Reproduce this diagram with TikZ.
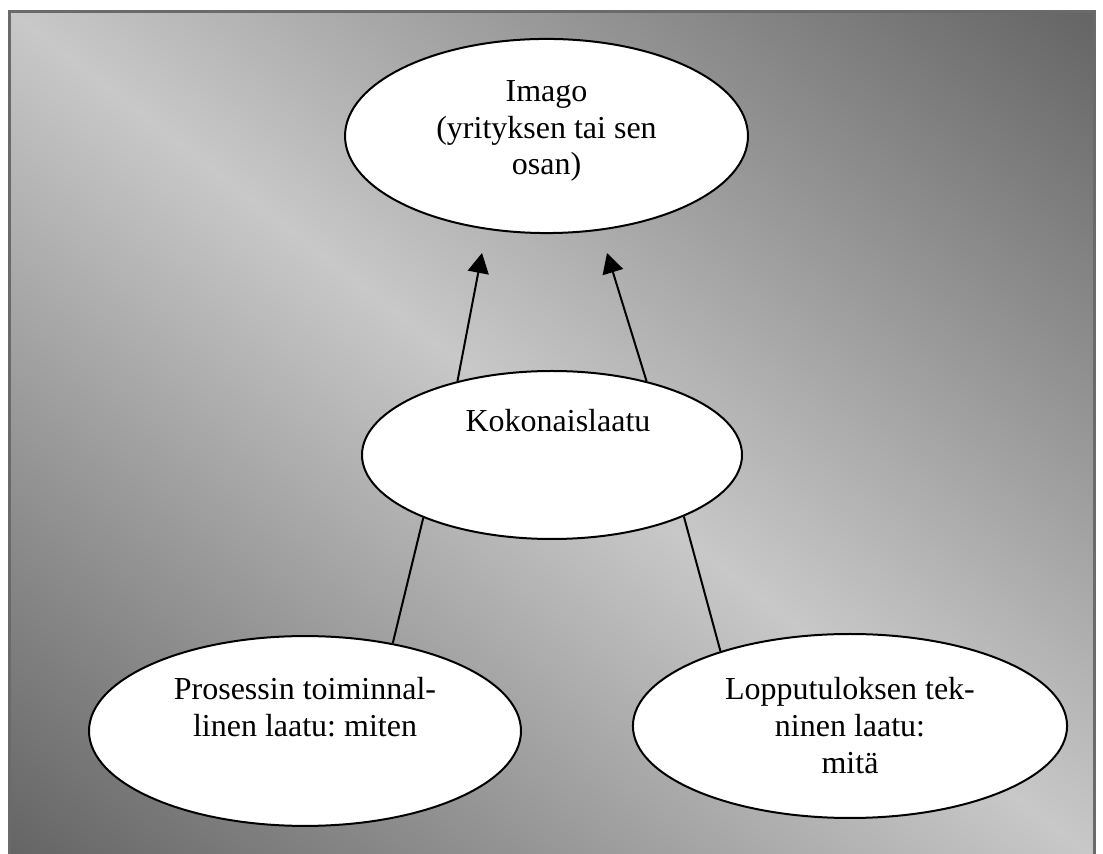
\documentclass[tikz,border=0pt]{standalone}
\usepackage{fontspec}
\setmainfont{Liberation Serif}
\frenchspacing
\usepackage{tikz}
\usetikzlibrary{shapes.geometric}
\usetikzlibrary{arrows.meta}
\definecolor{shadedark}{HTML}{646464}
\definecolor{shadelight}{HTML}{C8C8C8}
\definecolor{framegray}{HTML}{6A6A6A}

\begin{document}
\begin{tikzpicture}[x=0.375pt, y=-0.375pt,
		oval/.style={ellipse, draw=black, fill=white, line width=0.75pt, inner sep=0pt},
		ovaltext/.style={align=center, inner sep=0pt, font=\fontsize{12pt}{13.8pt}\selectfont},
		wire/.style={line width=0.75pt},
		tip/.style={-{Triangle[length=7.5pt, width=7.9pt]}}]
		% Background and frame:
		\useasboundingbox (0,0) rectangle (1103,854);
		\begin{scope}
			\clip (9.7,11.2) rectangle (1094.5,858);
			\shade[transform canvas={shift={(552,434.6)}, rotate=-38},
				top color=shadedark, bottom color=shadedark, middle color=shadelight]
				(-760,-668) rectangle (760,668);
		\end{scope}
		\draw[framegray, line width=1pt] (9.7,11.2) rectangle (1094.5,858);
		% Ellipses and texts:
		\node[oval, minimum width=151.1pt, minimum height=72.8pt] (imago) at (546.5,136) {};
		\node[oval, minimum width=142.5pt, minimum height=63pt] (kok) at (552,455) {};
		\node[oval, minimum width=162pt, minimum height=71.2pt] (proc) at (305,731) {};
		\node[oval, minimum width=162.8pt, minimum height=69pt] (tech) at (850,726) {};
		\node[ovaltext] (imago-t) at (546.5,131) {Imago\\(yrityksen tai sen\\osan)};
		\node[ovaltext] (kok-t) at (558,421) {Kokonaislaatu};
		\node[ovaltext] (proc-t) at (305,707.5) {Prosessin toiminnal-\\linen laatu: miten};
		\node[ovaltext] (tech-t) at (850,725.5) {Lopputuloksen tek-\\ninen laatu:\\mitä};
		% Arrows and wires:
		\coordinate (tipL) at (482,253);
		\coordinate (tipR) at (607,253);
		\draw[wire, tip] (kok.142) -- (tipL);
		\draw[wire, tip] (kok.38) -- (tipR);
		\draw[wire] (kok.206) -- (proc.45);
		\draw[wire] (kok.335) -- (tech.150);
	\end{tikzpicture}
\end{document}
